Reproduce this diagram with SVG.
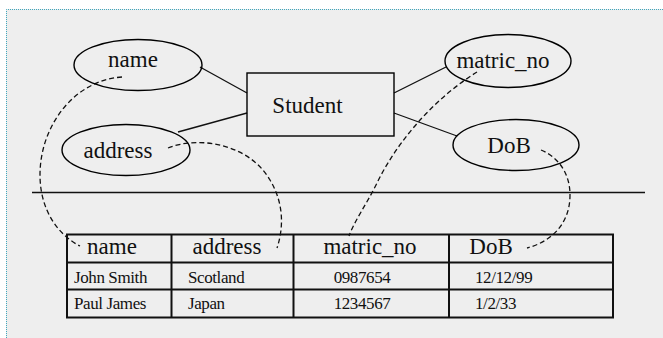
<svg xmlns="http://www.w3.org/2000/svg" width="663" height="338" viewBox="0 0 663 338">
<style>
.frame{fill:none;stroke:#3fa7bd;stroke-width:1;stroke-dasharray:1 1}
.shape{fill:none;stroke:#000;stroke-width:1.4}
.lbl{font-family:"Liberation Serif","Times New Roman",serif;font-size:23px;fill:#111;text-anchor:middle}
.cell{font-family:"Liberation Serif","Times New Roman",serif;font-size:17px;fill:#111;letter-spacing:-0.4px}
.grid{fill:none;stroke:#111;stroke-width:2}
.link{fill:none;stroke:#111;stroke-width:1.3}
.dash{fill:none;stroke:#111;stroke-width:1.3;stroke-dasharray:5 3}
</style>
<rect x="0" y="0" width="663" height="338" fill="#ffffff"/>
<rect x="6" y="9" width="657" height="329" fill="#eeeeee"/>
<path class="frame" d="M6.5 338 V9.5 H663"/>

<g id="connectors">
  <line class="link" x1="200" y1="67" x2="247" y2="93"/>
  <line class="link" x1="178" y1="132" x2="247" y2="113"/>
  <line class="link" x1="394" y1="93" x2="446" y2="67"/>
  <line class="link" x1="394" y1="113" x2="457" y2="136"/>
  <path class="dash" d="M122 77 C75 80 40 125 40 175 C40 210 58 235 80 246"/>
  <path class="dash" d="M168 148 C200 135 250 145 270 180 C285 205 283 230 277 248"/>
  <path class="dash" d="M477 72 C440 95 400 135 376 185 C366 205 355 220 349 236"/>
  <path class="dash" d="M541 150 C560 158 570 175 570 195 C570 225 550 242 527 248"/>
</g>

<g id="separator">
  <line x1="32" y1="192.5" x2="645" y2="192.5" stroke="#111" stroke-width="1.5"/>
</g>

<g id="student">
  <rect class="shape" x="247" y="73" width="147" height="63"/>
  <text class="lbl" x="307.5" y="113">Student</text>
</g>
<g id="name">
  <ellipse class="shape" cx="138" cy="65" rx="64" ry="25.5"/>
  <text class="lbl" x="133" y="67">name</text>
</g>
<g id="address">
  <ellipse class="shape" cx="126" cy="150" rx="64" ry="25.5"/>
  <text class="lbl" x="118" y="158">address</text>
</g>
<g id="matric_no">
  <ellipse class="shape" cx="508" cy="61" rx="63" ry="26.5"/>
  <text class="lbl" x="503" y="68">matric_no</text>
</g>
<g id="dob">
  <ellipse class="shape" cx="516" cy="145" rx="63" ry="25.5"/>
  <text class="lbl" x="509" y="153">DoB</text>
</g>

<g id="table">
  <rect class="grid" x="67" y="234.5" width="546" height="83"/>
  <line class="grid" x1="67" y1="262.5" x2="613" y2="262.5"/>
  <line class="grid" x1="67" y1="289.5" x2="613" y2="289.5"/>
  <line class="grid" x1="171.5" y1="234.5" x2="171.5" y2="317.5"/>
  <line class="grid" x1="293.5" y1="234.5" x2="293.5" y2="317.5"/>
  <line class="grid" x1="449" y1="234.5" x2="449" y2="317.5"/>
  <text class="lbl" x="112" y="254">name</text>
  <text class="lbl" x="227" y="254">address</text>
  <text class="lbl" x="370" y="254">matric_no</text>
  <text class="lbl" x="491" y="254">DoB</text>
  <text class="cell" x="74" y="283">John Smith</text>
  <text class="cell" x="188" y="283">Scotland</text>
  <text class="cell" x="362" y="283" text-anchor="middle">0987654</text>
  <text class="cell" x="475" y="283">12/12/99</text>
  <text class="cell" x="74" y="309">Paul James</text>
  <text class="cell" x="188" y="309">Japan</text>
  <text class="cell" x="362" y="309" text-anchor="middle">1234567</text>
  <text class="cell" x="475" y="309">1/2/33</text>
</g>
</svg>
